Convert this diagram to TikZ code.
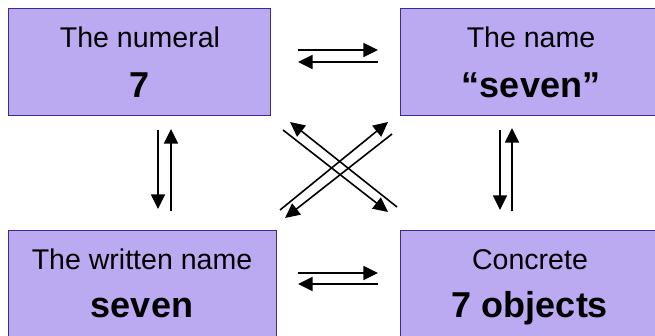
\documentclass[tikz,border=0pt]{standalone}
\usepackage{fontspec}
\setmainfont{Liberation Sans}
\usepackage{tikz}
\usetikzlibrary{arrows.meta}

\definecolor{boxfill}{RGB}{187,170,242}
\definecolor{boxline}{RGB}{62,42,140}

\tikzset{
  box/.style={draw=boxline, fill=boxfill, line width=0.9pt, anchor=north west, inner sep=0pt},
  lbl/.style={anchor=base, inner sep=0.75pt, font=\fontsize{21.4}{24}\selectfont},
  big/.style={anchor=base, inner sep=0.75pt, font=\fontsize{27}{30}\selectfont\bfseries},
  arr/.style={line width=1.2pt, -{Triangle[length=11pt, width=10.5pt]}}
}

\begin{document}
\begin{tikzpicture}[x=0.75pt,y=0.75pt,yscale=-1,xscale=1]

            \useasboundingbox (0,0) rectangle (655,335);

            % Boxes
            \node[box, minimum width=196.5pt, minimum height=80.25pt] (num) at (8,8) {};
            \node[box, minimum width=191.25pt, minimum height=80.25pt] (name) at (400,8) {};
            \node[box, minimum width=201pt, minimum height=81pt] (written) at (8,230) {};
            \node[box, minimum width=192pt, minimum height=81pt] (obj) at (400,230) {};

            % Labels
            \node[lbl] (numtop) at (140,47) {The numeral};
            \node[big] (numbot) at (140,97) {7};
            \node[lbl] (nametop) at (531,47) {The name};
            \node[big] (namebot) at (531,97) {``seven''};
            \node[lbl] (writtentop) at (142,269) {The written name};
            \node[big] (writtenbot) at (142,317) {seven};
            \node[lbl] (objtop) at (530,269) {Concrete};
            \node[big] (objbot) at (530,317) {7 objects};

            % Arrow ends
            \coordinate (ha1) at (298,50);  \coordinate (hb1) at (378,50);
            \coordinate (ha2) at (298,62);  \coordinate (hb2) at (378,62);
            \coordinate (ha3) at (298,273); \coordinate (hb3) at (378,273);
            \coordinate (ha4) at (298,284); \coordinate (hb4) at (378,284);
            \coordinate (va1) at (158,130); \coordinate (vb1) at (158,209);
            \coordinate (va2) at (171,129); \coordinate (vb2) at (171,211);
            \coordinate (va3) at (500,130); \coordinate (vb3) at (500,210);
            \coordinate (va4) at (512,128); \coordinate (vb4) at (512,211);
            \coordinate (da1) at (290,122); \coordinate (db1) at (397,207);
            \coordinate (da2) at (283,130); \coordinate (db2) at (388,212);
            \coordinate (da3) at (280,210); \coordinate (db3) at (388,122);
            \coordinate (da4) at (392,134); \coordinate (db4) at (285,218);

            % Arrows
            \draw[arr] (ha1) -- (hb1);
            \draw[arr] (hb2) -- (ha2);
            \draw[arr] (ha3) -- (hb3);
            \draw[arr] (hb4) -- (ha4);
            \draw[arr] (va1) -- (vb1);
            \draw[arr] (vb2) -- (va2);
            \draw[arr] (va3) -- (vb3);
            \draw[arr] (vb4) -- (va4);
            \draw[arr] (db1) -- (da1);
            \draw[arr] (da2) -- (db2);
            \draw[arr] (da3) -- (db3);
            \draw[arr] (da4) -- (db4);

\end{tikzpicture}
\end{document}
